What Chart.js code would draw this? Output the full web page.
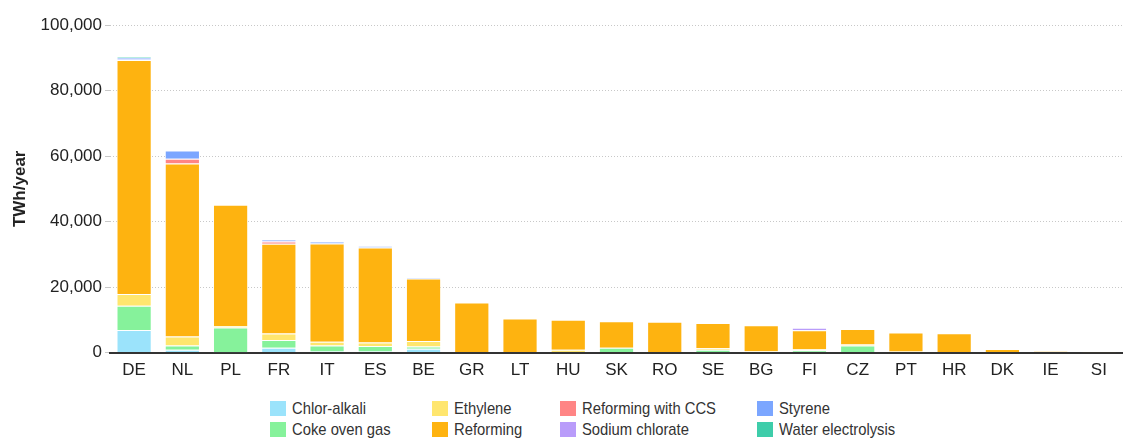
<!DOCTYPE html>
<html>
<head>
<meta charset="utf-8">
<script src="https://cdn.jsdelivr.net/npm/chart.js@4.4.0/dist/chart.umd.min.js"></script>
<style>
    body { margin: 0; background: #fff; }
    #caixa { position: relative; width: 1123px; height: 439px; }
    #caixaGrafico { position: absolute; left: 0; top: 0; width: 1123px; height: 381px; }
    .itemLegenda {
        position: absolute;
        font-family: "Liberation Sans", Arial, sans-serif;
        font-size: 17px;
        color: #333;
        line-height: 15px;
        white-space: nowrap;
    }
    .itemLegenda .caixinha {
        display: inline-block;
        width: 16px;
        height: 15px;
        margin-right: 6px;
        vertical-align: top;
    }
    .itemLegenda .texto {
        display: inline-block;
        transform: scaleX(0.87);
        transform-origin: left center;
        vertical-align: top;
    }
</style>
</head>
<body>
<div id="caixa">
    <div id="caixaGrafico"><canvas id="graficoHidrogenio"></canvas></div>
    <div id="legenda"></div>
</div>
<script>
const paises = ['DE', 'NL', 'PL', 'FR', 'IT', 'ES', 'BE', 'GR', 'LT', 'HU', 'SK', 'RO', 'SE', 'BG', 'FI', 'CZ', 'PT', 'HR', 'DK', 'IE', 'SI']

// valores (TWh/year)
const chlorAlkali =       [6900, 900, 100, 1500, 300, 300, 1200, 0, 0, 200, 0, 0, 100, 0, 0, 0, 0, 0, 0, 0, 0]
const cokeOvenGas =       [7400, 1300, 7550, 2350, 1900, 1700, 700, 0, 0, 0, 1500, 0, 800, 0, 700, 2200, 0, 0, 0, 0, 0]
const ethylene =          [3600, 2750, 500, 1950, 1100, 1100, 1650, 0, 0, 700, 0, 0, 400, 400, 300, 300, 300, 0, 0, 0, 0]
const reforming =         [71400, 52800, 37000, 27450, 30000, 29000, 19100, 15300, 10400, 9100, 8100, 9400, 7700, 7950, 5800, 4700, 5800, 5900, 1100, 400, 100]
const reformingCCS =      [0, 1400, 0, 700, 0, 0, 0, 0, 0, 0, 0, 0, 0, 0, 0, 0, 0, 0, 0, 0, 0]
const sodiumChlorate =    [200, 0, 0, 200, 0, 0, 0, 0, 0, 0, 0, 0, 0, 0, 800, 0, 0, 0, 0, 0, 0]
const styrene =           [500, 2550, 0, 500, 600, 400, 300, 0, 0, 0, 0, 0, 0, 0, 0, 0, 0, 0, 0, 0, 0]
const waterElectrolysis = [300, 0, 0, 0, 0, 0, 0, 0, 0, 0, 0, 0, 0, 0, 0, 0, 0, 0, 0, 0, 0]

const ticksY = [0, 20000, 40000, 60000, 80000, 100000]

const series = [
    { nome: 'Chlor-alkali', dados: chlorAlkali, cor: '#9BE3FB' },
    { nome: 'Coke oven gas', dados: cokeOvenGas, cor: '#86F29B' },
    { nome: 'Ethylene', dados: ethylene, cor: '#FFE66E' },
    { nome: 'Reforming', dados: reforming, cor: '#FEB310' },
    { nome: 'Reforming with CCS', dados: reformingCCS, cor: '#FF8585' },
    { nome: 'Sodium chlorate', dados: sodiumChlorate, cor: '#B99CFA' },
    { nome: 'Styrene', dados: styrene, cor: '#7BA6FF' },
    { nome: 'Water electrolysis', dados: waterElectrolysis, cor: '#3ECDAA' }
]

const fonte = '"Liberation Sans", Arial, sans-serif'

const conjuntos = []
for (i = 0; i < series.length; i++) {
    conjuntos.push({
        label: series[i].nome,
        data: series[i].dados,
        backgroundColor: series[i].cor,
        borderColor: 'rgba(255,255,255,0.5)',
        borderWidth: 1,
        barPercentage: 0.73,
        categoryPercentage: 1
    })
}

const configGrafico = {
    type: 'bar',
    data: {
        labels: paises,
        datasets: conjuntos
    },
    options: {
        responsive: true,
        maintainAspectRatio: false,
        animation: false,
        layout: {
            padding: { top: 25, right: 0, bottom: 0, left: 0 }
        },
        plugins: {
            legend: { display: false },
            tooltip: { enabled: false }
        },
        scales: {
            x: {
                stacked: true,
                grid: { display: false },
                border: { display: true, color: '#333', width: 2 },
                ticks: {
                    color: '#222',
                    padding: 0,
                    font: { family: fonte, size: 17 }
                }
            },
            y: {
                stacked: true,
                min: 0,
                max: 100000,
                afterFit: function (escala) {
                    escala.width = 110
                },
                afterBuildTicks: function (escala) {
                    escala.ticks = ticksY.map(v => ({ value: v }))
                },
                grid: {
                    color: '#c8c8c8',
                    lineWidth: 1,
                    tickLength: 5
                },
                border: { display: false, dash: [1, 2] },
                ticks: {
                    color: '#222',
                    padding: 3,
                    font: { family: fonte, size: 17 },
                    callback: function (valor) {
                        return valor.toLocaleString('en-US')
                    }
                },
                title: {
                    display: true,
                    text: 'TWh/year',
                    color: '#222',
                    padding: { top: 10, bottom: 0 },
                    font: { family: fonte, size: 17, weight: 'bold' }
                }
            }
        }
    }
}

new Chart(document.getElementById('graficoHidrogenio'), configGrafico)

// legenda em 4 colunas (ordem por coluna)
const legendaX = [270, 432, 560, 757]
const legendaY = [401, 422]
const legenda = document.getElementById('legenda')
for (i = 0; i < series.length; i++) {
    const item = document.createElement('div')
    item.className = 'itemLegenda'
    item.style.left = legendaX[Math.floor(i / 2)] + 'px'
    item.style.top = legendaY[i % 2] + 'px'
    item.innerHTML = '<span class="caixinha" style="background:' + series[i].cor + '"></span><span class="texto">' + series[i].nome + '</span>'
    legenda.appendChild(item)
}
</script>
</body>
</html>
